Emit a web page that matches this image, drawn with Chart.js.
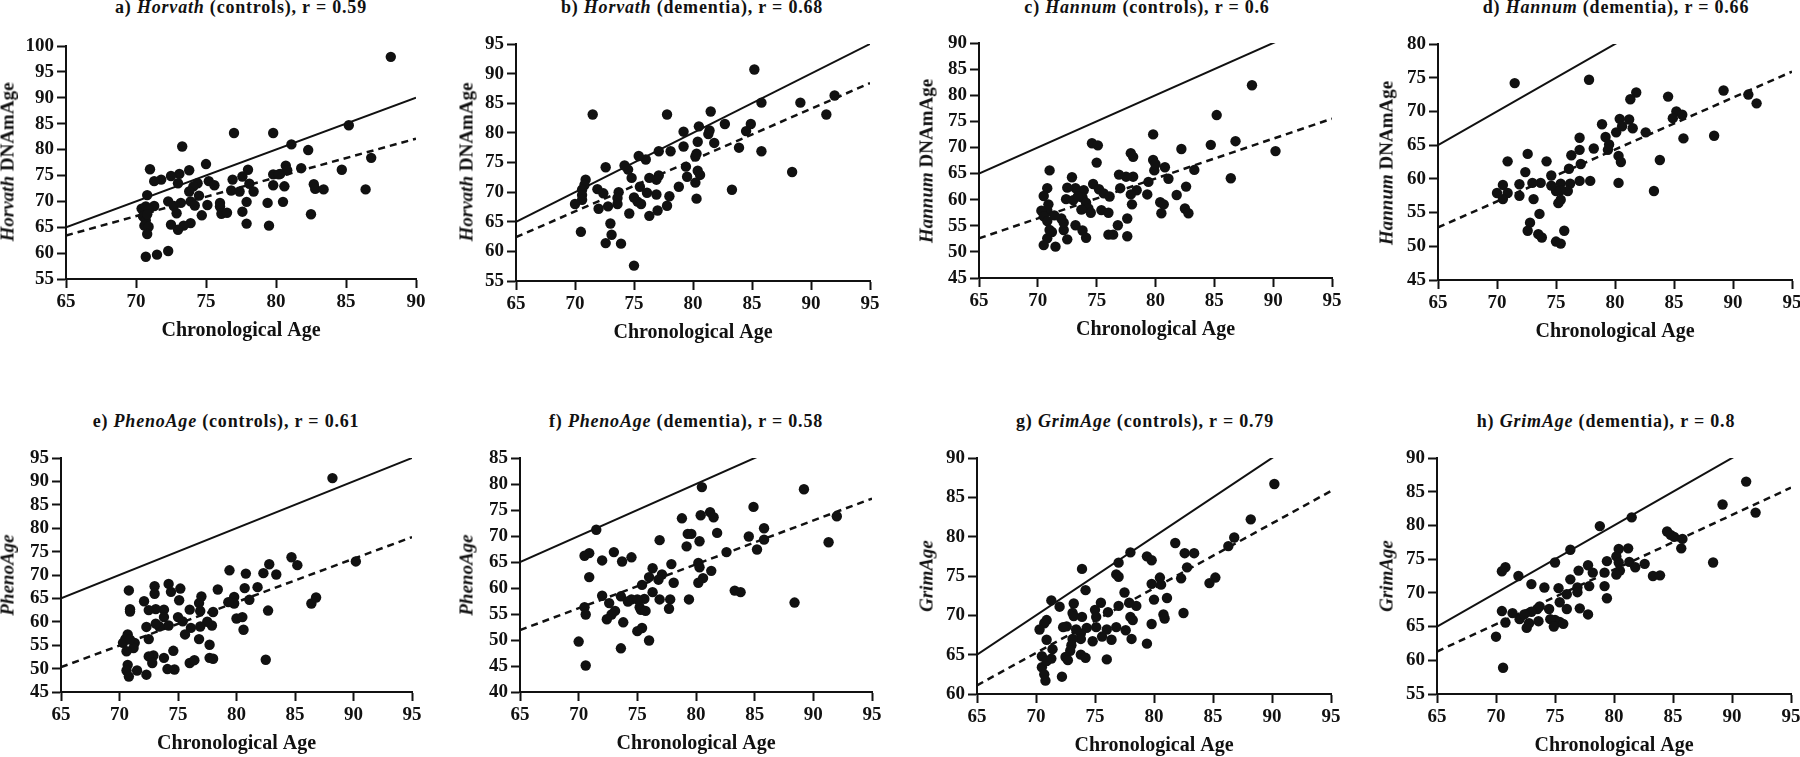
<!DOCTYPE html>
<html>
<head>
<meta charset="utf-8">
<title>Epigenetic age vs chronological age</title>
<script src="https://cdn.jsdelivr.net/npm/chart.js@4.4.0/dist/chart.umd.min.js"></script>
<style>
  body { margin: 0; width: 1800px; height: 757px; overflow: hidden; position: relative; background: #fff;
         font-family: "Liberation Serif", "Times New Roman", serif; font-weight: bold; color: #111; }
  canvas { position: absolute; }
  .ttl { position: absolute; white-space: nowrap; font-size: 18px; letter-spacing: 0.8px; line-height: 1; transform: translate(-50%, -50%); }
  .ytl { position: absolute; white-space: nowrap; font-size: 19px; line-height: 1; transform: translate(-50%, -50%) rotate(-90deg); }
</style>
</head>
<body>
<script>
// a) Horvath, controls
const horvathCtrlAge = [88.2,85.2,77.0,79.8,81.1,82.3,73.3,71.0,73.8,75.0,86.8,84.7,81.8,80.7,80.8,80.3,79.8,78.0,77.6,78.1,
  76.9,76.8,77.4,78.4,79.8,80.6,82.7,82.8,83.4,86.4,80.5,79.4,77.9,77.6,77.9,79.5,82.5,75.2,75.6,74.4,
  74.1,73.8,74.5,73.9,74.2,75.1,74.7,76.0,76.0,76.1,76.5,73.9,73.4,73.0,72.5,73.1,72.5,71.8,73.0,71.3,
  72.3,72.7,73.2,72.9,71.3,70.8,70.4,70.7,70.9,70.5,70.7,70.6,70.9,70.8,70.7,71.5,72.3,70.8,80.2];
const horvathCtrlDNAm = [97.9,84.7,83.2,83.2,81.0,79.9,80.6,76.2,76.0,77.2,78.4,76.1,76.4,76.9,76.0,75.3,75.2,76.1,74.8,73.4,
  74.2,72.1,71.9,71.9,73.1,72.9,73.3,72.4,72.3,72.3,69.9,69.7,69.9,68.0,65.7,65.3,67.5,73.9,73.1,73.5,
  72.9,71.9,71.1,70.0,69.2,69.3,67.3,69.7,69.0,67.6,67.8,65.8,65.3,64.5,65.5,75.3,74.9,74.2,73.5,73.9,
  70.0,69.1,69.7,67.7,69.1,71.2,68.6,69.0,68.4,67.1,66.3,65.3,65.1,63.7,59.3,59.7,60.4,67.5,75.2];

// b) Horvath, dementia
const horvathDemAge = [85.2,85.8,89.1,92.0,91.3,88.4,85.8,84.9,84.5,83.9,83.3,82.7,81.5,81.8,81.3,81.4,80.5,80.4,80.3,80.2,
  80.4,80.6,80.2,80.3,79.2,79.2,79.4,79.5,78.8,77.8,78.1,78.0,77.8,77.1,77.1,76.9,76.9,77.0,76.3,76.3,
  76.0,75.4,76.1,75.5,75.0,75.3,75.6,75.0,74.8,74.5,74.2,74.6,73.7,73.6,73.6,73.0,73.1,73.9,72.6,72.6,
  72.8,72.4,71.9,72.0,71.5,70.9,70.8,70.6,70.6,70.6,70.0,70.5];
const horvathDemDNAm = [90.7,85.1,85.1,86.3,83.1,73.4,76.9,81.5,80.3,77.5,70.4,81.5,83.6,78.3,79.8,80.4,81.1,78.5,76.5,76.0,
  73.6,72.9,71.6,68.9,80.2,77.7,74.3,72.6,70.9,83.1,76.9,69.3,67.7,76.9,72.8,72.1,69.6,66.9,72.4,66.0,
  75.5,76.1,69.9,70.9,69.1,68.4,68.0,57.6,72.4,73.8,74.5,66.4,70.0,69.0,68.0,64.7,62.8,61.3,61.4,74.2,
  67.6,69.8,70.5,67.2,83.1,72.1,71.2,70.4,69.5,68.7,68.0,63.3];

// c) Hannum, controls
const hannumCtrlAge = [88.2,85.2,86.8,84.7,90.2,86.4,83.3,82.2,82.6,81.8,82.5,82.8,80.8,81.1,79.8,79.8,79.9,79.4,79.3,80.4,
  80.5,77.9,78.1,77.5,76.9,77.0,78.4,77.9,78.0,77.6,77.6,76.8,76.4,76.0,74.6,75.1,75.0,74.7,75.2,75.6,
  76.1,75.4,76.0,73.9,73.8,74.1,74.3,74.5,73.7,73.2,72.9,72.5,72.4,73.0,73.4,73.2,73.8,74.1,72.5,72.2,
  72.2,72.0,71.0,70.8,70.5,70.9,70.8,70.3,70.5,70.8,71.4,71.2,70.8,70.5,71.5,71.0,80.0,80.7,78.1];
const hannumCtrlDNAm = [81.9,76.2,71.2,70.5,69.3,64.1,65.7,69.7,62.5,60.9,58.3,57.4,66.2,64.0,72.5,67.6,65.6,63.4,61.0,59.5,
  57.4,68.9,64.4,64.4,64.8,62.2,61.8,61.0,59.1,56.4,53.0,55.1,53.3,53.3,70.8,70.4,67.1,63.0,62.0,61.2,
  60.6,58.0,57.5,61.8,60.4,59.4,58.3,57.5,58.1,62.2,64.3,62.3,60.1,59.9,60.6,55.1,54.1,52.7,52.4,54.2,
  55.6,56.4,65.6,62.2,60.7,59.1,58.0,57.9,56.8,55.9,57.0,53.8,52.6,51.3,51.0,54.2,66.8,59.1,68.2];

// d) Hannum, dementia
const hannumDemAge = [71.5,77.8,89.2,91.3,92.0,84.5,85.2,84.9,85.7,85.8,88.4,83.8,83.3,82.6,81.8,81.3,81.5,81.2,80.4,80.6,
  80.1,80.3,80.5,80.3,78.9,79.2,79.5,79.4,78.2,77.0,77.0,77.1,77.0,77.9,76.3,76.1,76.2,76.0,75.4,75.4,
  75.0,74.6,74.6,74.2,73.7,73.0,73.1,73.6,72.8,72.6,73.5,73.8,75.4,75.2,75.7,75.0,75.4,72.6,72.4,71.9,
  71.9,70.9,70.5,70.9,70.0,70.5];
const hannumDemDNAm = [74.2,74.7,73.1,72.5,71.2,72.2,70.0,69.0,69.5,66.0,66.4,62.8,58.2,66.9,72.8,71.8,67.5,68.8,68.9,67.8,
  66.9,63.4,62.5,59.4,68.1,66.2,65.1,64.3,64.5,66.1,64.3,62.2,59.7,59.7,63.5,61.5,59.3,58.2,59.3,58.3,
  58.2,60.5,59.0,62.6,59.4,59.4,57.0,54.8,53.5,52.3,51.8,51.3,56.9,56.4,52.3,50.7,50.4,63.7,61.0,59.2,
  57.5,62.6,59.1,57.9,57.9,57.0];

// e) PhenoAge, controls
const phenoCtrlAge = [88.2,90.2,84.7,85.2,82.8,82.3,83.4,82.7,82.5,86.4,86.8,80.8,80.7,81.8,81.1,79.8,79.8,79.4,79.3,80.0,
  80.5,80.6,78.4,78.0,77.9,77.5,77.7,77.7,78.0,77.0,76.8,76.9,76.9,76.8,76.0,76.1,75.6,76.0,76.4,75.2,
  75.1,75.0,75.4,74.2,74.4,73.8,73.8,74.2,73.4,73.1,73.0,73.0,72.5,73.1,73.8,74.1,74.7,74.6,72.9,72.5,
  72.8,72.3,72.5,72.3,72.1,70.8,70.9,70.9,70.7,70.5,70.3,71.3,71.2,70.6,70.7,70.6,70.8,71.5,70.9];
const phenoCtrlAgeEst = [90.7,72.9,73.8,72.1,72.3,70.4,70.1,62.4,51.9,63.9,65.2,70.3,67.2,67.4,64.7,65.3,63.9,71.0,64.2,60.7,
  61.0,58.3,66.9,62.1,59.2,60.0,55.1,52.3,52.1,65.4,64.0,62.3,59.0,56.3,62.6,58.7,57.3,51.2,51.8,67.1,
  64.6,61.0,60.1,68.1,66.4,62.6,61.0,59.2,59.0,62.7,67.6,66.0,62.5,59.6,52.3,49.9,49.8,53.8,52.8,52.6,
  51.2,48.7,56.3,58.9,64.4,66.7,62.7,62.2,57.3,56.3,55.5,55.5,54.4,53.7,50.8,49.6,48.3,49.6,56.2];

// f) PhenoAge, dementia
const phenoDemAge = [89.2,92.0,91.3,88.4,84.9,84.5,85.8,85.8,85.2,82.6,83.3,83.8,80.5,81.2,81.5,80.4,81.8,80.3,81.3,80.2,
  80.3,80.6,80.2,78.8,79.3,79.6,79.2,79.4,77.9,78.1,77.8,77.7,76.9,77.1,76.8,76.9,76.3,76.0,76.3,76.0,
  75.4,75.6,75.2,75.3,75.7,75.4,75.0,75.0,74.5,74.5,73.7,73.0,73.6,74.2,73.8,73.6,72.6,73.1,72.8,72.4,
  72.0,72.0,71.5,70.9,70.5,70.9,70.5,70.6,70.0,70.6];
const phenoDemAgeEst = [79.0,73.8,68.8,57.2,75.6,69.9,71.5,69.3,67.4,66.9,59.5,59.2,79.4,74.6,73.6,74.0,70.6,69.0,63.3,64.8,
  64.0,61.9,61.0,73.4,70.4,70.4,68.0,57.8,64.6,61.0,57.8,56.0,69.2,62.6,61.6,57.8,63.8,62.1,59.2,49.9,
  60.6,57.9,56.3,55.8,55.6,52.3,51.7,57.8,57.8,65.9,65.1,66.9,58.4,57.4,53.4,48.4,57.1,55.6,54.9,54.0,
  58.5,65.3,71.2,66.7,66.2,62.1,56.3,54.9,49.7,45.1];

// g) GrimAge, controls
const grimCtrlAge = [90.2,88.2,86.8,86.3,85.2,84.7,81.8,82.6,83.4,82.8,82.3,82.5,81.1,80.8,80.9,80.5,80.6,79.8,79.4,79.8,
  80.0,79.8,79.4,78.0,78.0,78.2,78.5,77.9,77.6,78.1,77.5,77.0,76.8,77.0,77.0,76.8,76.1,76.0,76.4,76.0,
  75.5,75.6,75.0,75.1,75.1,74.8,74.3,73.8,73.8,73.9,74.2,73.9,73.8,74.2,73.2,73.1,73.2,73.4,73.1,73.0,
  72.9,72.6,72.3,72.5,72.7,72.2,72.0,71.3,71.4,71.3,70.9,70.7,70.3,70.9,70.5,70.5,70.7,70.8,70.9];
const grimCtrlAgeEst = [86.7,82.2,79.9,78.8,74.8,74.1,79.2,77.9,77.9,76.1,74.7,70.3,72.2,70.1,69.6,74.8,73.9,74.0,77.5,77.0,
  72.0,68.9,66.4,78.0,69.8,69.4,71.2,71.6,68.1,67.0,72.9,76.7,75.2,74.9,71.2,68.5,70.4,68.2,66.9,64.4,
  71.6,67.3,70.7,69.8,68.5,66.7,68.4,67.7,67.0,75.9,73.2,69.8,65.0,64.6,71.5,70.3,69.9,68.2,67.0,66.2,
  65.5,68.6,68.5,64.7,64.3,62.2,71.1,71.9,65.7,64.5,69.4,69.0,68.2,66.9,64.8,63.4,62.5,61.7,64.2];

// h) GrimAge, dementia
const grimDemAge = [91.2,89.2,92.0,88.4,84.5,84.8,85.1,85.8,85.7,81.5,78.8,82.6,83.3,83.9,81.2,80.4,81.3,81.8,80.2,80.4,
  80.5,80.2,79.4,79.2,79.2,79.4,77.8,78.2,77.9,77.8,77.1,77.0,76.9,76.9,76.3,76.3,76.0,76.0,75.3,75.4,
  75.4,75.0,75.0,74.6,74.9,75.7,74.5,74.1,73.5,73.7,73.0,73.0,73.6,72.8,72.6,72.0,72.4,71.9,71.4,70.8,
  70.5,70.5,70.8,70.0,70.6];
const grimDemAgeEst = [86.5,83.1,81.9,74.5,79.1,78.6,78.3,78.0,76.6,81.2,79.9,74.3,72.5,72.6,76.6,76.5,74.6,73.8,75.4,74.5,
  73.3,72.7,74.7,73.0,71.0,69.2,74.1,73.0,71.0,66.8,67.7,73.3,70.8,70.1,76.4,72.0,69.8,67.6,70.7,68.6,
  65.7,74.5,66.0,66.1,65.0,65.4,67.6,70.8,67.6,68.0,67.2,71.3,65.8,65.5,64.8,66.1,66.8,72.5,67.0,65.6,
  67.3,73.2,73.8,63.5,58.9];

// regression line (dashed): fitted value at age 65 and at the right end of the x axis
const horvathCtrlFit = [63.4, 82.1];
const horvathDemFit = [62.4, 88.4];
const hannumCtrlFit = [52.6, 75.5];
const hannumDemFit = [52.8, 75.9];
const phenoCtrlFit = [50.3, 78.1];
const phenoDemFit = [51.9, 77.2];
const grimCtrlFit = [61.1, 85.8];
const grimDemFit = [61.3, 85.6];

const ink = '#111';

// box = plot area [left, top, right, bottom] on the page
const panels = [
  { x: horvathCtrlAge, y: horvathCtrlDNAm, fit: horvathCtrlFit, xMax: 90, yMin: 55, yMax: 100, box: [66, 46, 416, 279],
    title: 'a) <i>Horvath</i> (controls), r = 0.59', tPos: [241, 7], yTitle: '<i>Horvath</i> DNAmAge', yPos: [7, 162] },
  { x: horvathDemAge, y: horvathDemDNAm, fit: horvathDemFit, xMax: 95, yMin: 55, yMax: 95, box: [516, 44, 870, 281],
    title: 'b) <i>Horvath</i> (dementia), r = 0.68', tPos: [692, 7], yTitle: '<i>Horvath</i> DNAmAge', yPos: [466, 162] },
  { x: hannumCtrlAge, y: hannumCtrlDNAm, fit: hannumCtrlFit, xMax: 95, yMin: 45, yMax: 90, box: [979, 43, 1332, 278],
    title: 'c) <i>Hannum</i> (controls), r = 0.6', tPos: [1147, 7], yTitle: '<i>Hannum</i> DNAmAge', yPos: [926, 161] },
  { x: hannumDemAge, y: hannumDemDNAm, fit: hannumDemFit, xMax: 95, yMin: 45, yMax: 80, box: [1438, 44, 1792, 280],
    title: 'd) <i>Hannum</i> (dementia), r = 0.66', tPos: [1616, 7], yTitle: '<i>Hannum</i> DNAmAge', yPos: [1386, 163] },
  { x: phenoCtrlAge, y: phenoCtrlAgeEst, fit: phenoCtrlFit, xMax: 95, yMin: 45, yMax: 95, box: [61, 458, 412, 692],
    title: 'e) <i>PhenoAge</i> (controls), r = 0.61', tPos: [226, 421], yTitle: '<i>PhenoAge</i>', yPos: [7, 575] },
  { x: phenoDemAge, y: phenoDemAgeEst, fit: phenoDemFit, xMax: 95, yMin: 40, yMax: 85, box: [520, 458, 872, 692],
    title: 'f) <i>PhenoAge</i> (dementia), r = 0.58', tPos: [686, 421], yTitle: '<i>PhenoAge</i>', yPos: [466, 575] },
  { x: grimCtrlAge, y: grimCtrlAgeEst, fit: grimCtrlFit, xMax: 95, yMin: 60, yMax: 90, box: [977, 458, 1331, 694],
    title: 'g) <i>GrimAge</i> (controls), r = 0.79', tPos: [1145, 421], yTitle: '<i>GrimAge</i>', yPos: [926, 576] },
  { x: grimDemAge, y: grimDemAgeEst, fit: grimDemFit, xMax: 95, yMin: 55, yMax: 90, box: [1437, 458, 1791, 694],
    title: 'h) <i>GrimAge</i> (dementia), r = 0.8', tPos: [1606, 421], yTitle: '<i>GrimAge</i>', yPos: [1386, 576] },
];

const tickFont = { family: '"Liberation Serif", serif', size: 19, weight: 'bold' };
const axisGrid = { drawOnChartArea: false, tickLength: 9, tickWidth: 2, color: ink };
const axisBorder = { color: ink, width: 2 };

const addText = (cls, html, [x, y]) => {
  const el = document.createElement('div');
  el.className = cls;
  el.innerHTML = html;
  el.style.left = `${x}px`;
  el.style.top = `${y}px`;
  document.body.appendChild(el);
};

panels.forEach((p) => {
  const [l, t, r, b] = p.box;
  const padL = 70, padT = 20, padR = 25, padB = 75;

  const cv = document.createElement('canvas');
  cv.width = r - l + padL + padR;
  cv.height = b - t + padT + padB;
  cv.style.left = `${l - padL}px`;
  cv.style.top = `${t - padT}px`;
  document.body.appendChild(cv);

  new Chart(cv, {
    type: 'scatter',
    data: {
      datasets: [
        {
          data: p.x.map((v, i) => ({ x: v, y: p.y[i] })),
          pointRadius: 5.2, pointBackgroundColor: ink, pointBorderWidth: 0, order: 1
        },
        {
          // line of identity
          type: 'line', data: [{ x: 65, y: 65 }, { x: p.xMax, y: p.xMax }],
          borderColor: ink, borderWidth: 2, pointRadius: 0, order: 2
        },
        {
          // regression fit
          type: 'line', data: [{ x: 65, y: p.fit[0] }, { x: p.xMax, y: p.fit[1] }],
          borderColor: ink, borderWidth: 2.5, borderDash: [7, 5], pointRadius: 0, order: 3
        }
      ]
    },
    options: {
      responsive: false,
      animation: false,
      layout: { padding: { left: 0, top: padT, right: padR, bottom: 0 } },
      plugins: { legend: { display: false }, tooltip: { enabled: false } },
      scales: {
        x: {
          type: 'linear', min: 65, max: p.xMax,
          afterFit: (s) => { s.height = padB; },
          ticks: { stepSize: 5, autoSkip: false, maxRotation: 0, color: ink, font: tickFont, padding: 3 },
          grid: axisGrid, border: axisBorder,
          title: { display: true, text: 'Chronological Age', color: ink,
                   font: { family: '"Liberation Serif", serif', size: 20, weight: 'bold' }, padding: { top: 0, bottom: 11 } }
        },
        y: {
          min: p.yMin, max: p.yMax,
          afterFit: (s) => { s.width = padL; },
          ticks: { stepSize: 5, autoSkip: false, color: ink, font: tickFont, padding: 3 },
          grid: axisGrid, border: axisBorder
        }
      }
    }
  });

  addText('ttl', p.title, p.tPos);
  addText('ytl', p.yTitle, p.yPos);
});
</script>
</body>
</html>
